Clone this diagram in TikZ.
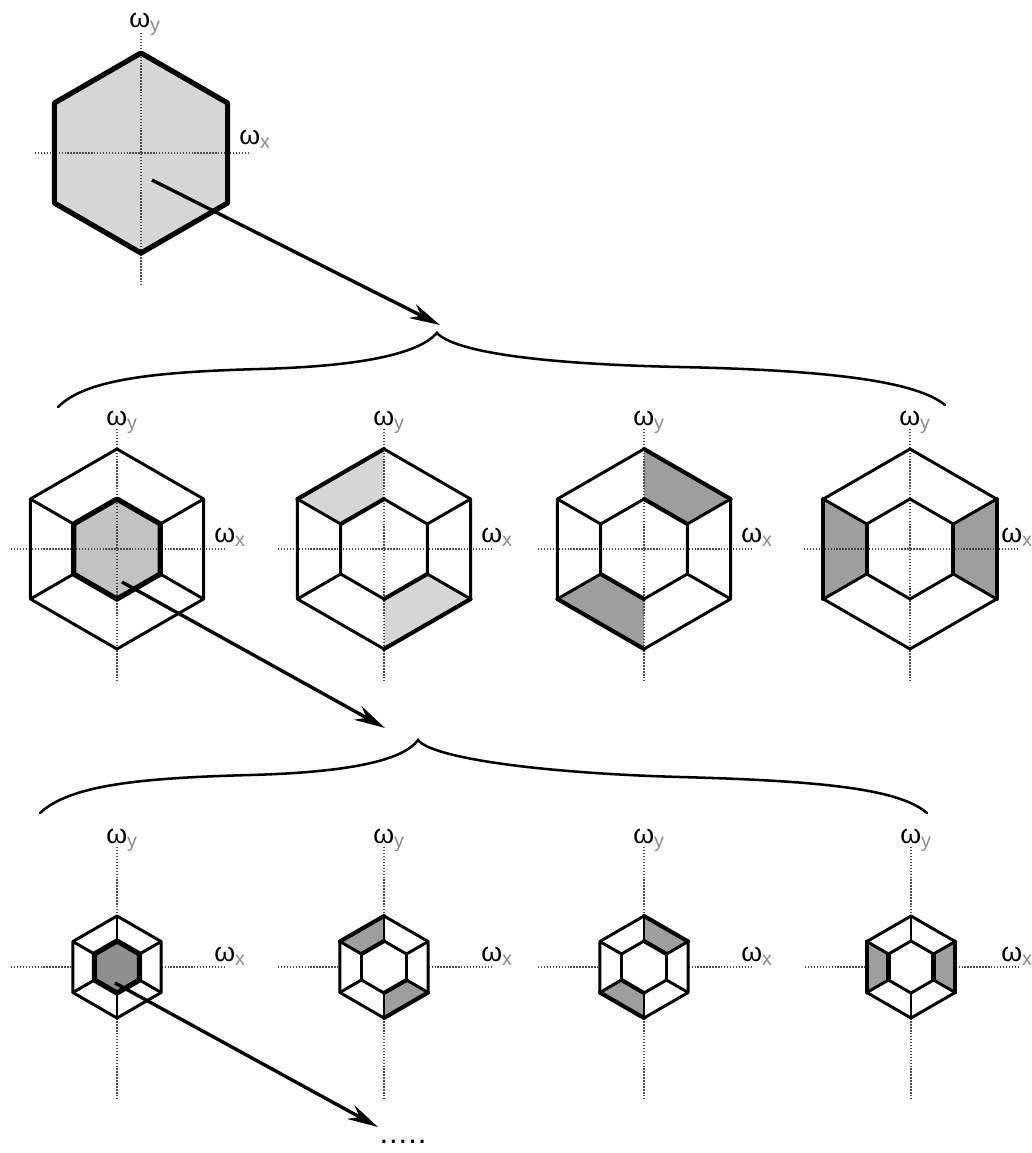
\documentclass[tikz,border=0pt]{standalone}
\usepackage{fontspec}
\setmainfont{Liberation Sans}
\usetikzlibrary{arrows.meta}
\definecolor{shadelight}{gray}{0.84}
\definecolor{shademid}{gray}{0.76}
\definecolor{shadedark}{gray}{0.62}
\definecolor{shadedeep}{gray}{0.56}
\definecolor{subgray}{gray}{0.55}
\definecolor{dotgray}{gray}{0.3}
\newcommand{\omfont}{\fontsize{19pt}{22pt}\selectfont}
\newcommand{\wsub}[1]{\raisebox{-3pt}{\fontsize{14pt}{14pt}\selectfont\color{subgray}#1}}

\begin{document}
\begin{tikzpicture}[x=0.025cm, y=0.025cm, >=Stealth,
  axisline/.style={dotgray, line width=1.3pt, dash pattern=on 1pt off 1.1pt},
  hexedge/.style={line width=2.1pt, line join=round},
  boldedge/.style={line width=3.7pt, line join=round},
  shadeedge/.style={line width=2.9pt, line cap=round},
  omlabel/.style={font=\omfont, inner sep=0pt, anchor=base west},
  bigarrow/.style={line width=2.4pt, -{Stealth[length=22pt, width=11pt]}},
  bracecurve/.style={line width=1.8pt, line cap=round}]

  \useasboundingbox (0,0) rectangle (1032,-1153);

  % --- Top hexagon ---
  \coordinate (top-c) at (141,-153);
  \begin{scope}[shift={(top-c)}]
    \fill[shadelight] (90:100) \foreach \t in {150,210,270,330,30} {-- (\t:100)} -- cycle;
    \draw[axisline] (0,120) -- (0,-132);
    \draw[axisline] (-106,0) -- (107,0);
    \draw[boldedge] (90:100) \foreach \t in {150,210,270,330,30} {-- (\t:100)} -- cycle;
    \node[omlabel] (top-ly) at (-12,126) {ω\wsub{y}};
    \node[omlabel] (top-lx) at (98,9) {ω\wsub{x}};
  \end{scope}

  % --- Middle row: fills ---
  \begin{scope}[shift={(117,-549)}]
    \fill[shademid] (90:50) \foreach \t in {150,210,270,330,30} {-- (\t:50)} -- cycle;
  \end{scope}
  \foreach \cx/\a/\shd in {384/90/shadelight, 644/30/shadedark, 910/-30/shadedark} {
    \begin{scope}[shift={(\cx,-549)}]
      \foreach \b in {\a, \a+180} {
        \fill[\shd] ({\b}:100) -- ({\b+60}:100) -- ({\b+60}:50) -- ({\b}:50) -- cycle;
      }
    \end{scope}
  }

  % --- Middle row: axes, hexagons, labels ---
  \foreach \cx/\lx [count=\i] in {117/97,384/97,644/97,910/91} {
    \begin{scope}[shift={(\cx,-549)}]
      \draw[axisline] (0,120) -- (0,-132);
      \draw[axisline] (-106,0) -- (107,0);
      \draw[hexedge] (90:100) \foreach \t in {150,210,270,330,30} {-- (\t:100)} -- cycle;
      \draw[hexedge] (90:50) \foreach \t in {150,210,270,330,30} {-- (\t:50)} -- cycle;
      \foreach \t in {30,150,210,330} \draw[hexedge] (\t:50) -- (\t:100);
      \node[omlabel] (mid-ly\i) at (-11,124) {ω\wsub{y}};
      \node[omlabel] (mid-lx\i) at (\lx,7) {ω\wsub{x}};
    \end{scope}
  }

  % bold outlines of the shaded parts
  \begin{scope}[shift={(117,-549)}]
    \draw[boldedge] (90:50) \foreach \t in {150,210,270,330,30} {-- (\t:50)} -- cycle;
  \end{scope}
  \foreach \cx/\a in {384/90, 644/30, 910/-30} {
    \begin{scope}[shift={(\cx,-549)}]
      \foreach \b in {\a, \a+180} {
        \draw[shadeedge] ({\b}:100) -- ({\b+60}:100);
        \draw[shadeedge] ({\b}:50) -- ({\b+60}:50);
      }
    \end{scope}
  }

  % --- Bottom row: axes, white hexagons, labels ---
  \foreach \cx/\lx [count=\i] in {117/97,384/97,644/97,911/90} {
    \begin{scope}[shift={(\cx,-967)}]
      \draw[axisline] (0,120) -- (0,-132);
      \draw[axisline] (-106,0) -- (107,0);
      \fill[white] (90:51) \foreach \t in {150,210,270,330,30} {-- (\t:51)} -- cycle;
      \node[omlabel] (bot-ly\i) at (-11,124) {ω\wsub{y}};
      \node[omlabel] (bot-lx\i) at (\lx,6) {ω\wsub{x}};
    \end{scope}
  }

  % --- Bottom row: fills ---
  \begin{scope}[shift={(117,-967)}]
    \fill[shadedeep] (90:26) \foreach \t in {150,210,270,330,30} {-- (\t:26)} -- cycle;
  \end{scope}
  \foreach \cx/\a in {384/90, 644/30, 911/-30} {
    \begin{scope}[shift={(\cx,-967)}]
      \foreach \b in {\a, \a+180} {
        \fill[shadedark] ({\b}:51) -- ({\b+60}:51) -- ({\b+60}:26) -- ({\b}:26) -- cycle;
      }
    \end{scope}
  }

  % --- Bottom row: outlines ---
  \foreach \cx in {117,384,644,911} {
    \begin{scope}[shift={(\cx,-967)}]
      \draw[hexedge] (90:51) \foreach \t in {150,210,270,330,30} {-- (\t:51)} -- cycle;
      \draw[hexedge] (90:26) \foreach \t in {150,210,270,330,30} {-- (\t:26)} -- cycle;
      \foreach \t in {30,90,...,330} \draw[hexedge] (\t:26) -- (\t:51);
    \end{scope}
  }
  \begin{scope}[shift={(117,-967)}]
    \draw[boldedge] (90:26) \foreach \t in {150,210,270,330,30} {-- (\t:26)} -- cycle;
  \end{scope}
  \foreach \cx/\a in {384/90, 644/30, 911/-30} {
    \begin{scope}[shift={(\cx,-967)}]
      \foreach \b in {\a, \a+180} {
        \draw[shadeedge] ({\b}:51) -- ({\b+60}:51);
        \draw[shadeedge] ({\b}:26) -- ({\b+60}:26);
      }
    \end{scope}
  }

  % --- Braces ---
  \draw[bracecurve] (58,-407) .. controls (85,-380) and (150,-372) .. (260,-369)
    .. controls (370,-366) and (420,-352) .. (437,-333) coordinate (brace1-tip)
    .. controls (455,-352) and (540,-364) .. (680,-367)
    .. controls (820,-370) and (915,-380) .. (945,-405);
  \draw[bracecurve] (40,-813) .. controls (70,-785) and (140,-778) .. (250,-775)
    .. controls (360,-772) and (405,-758) .. (418,-740) coordinate (brace2-tip)
    .. controls (432,-758) and (540,-773) .. (680,-777)
    .. controls (830,-781) and (900,-790) .. (927,-813);

  % --- Zoom arrows ---
  \coordinate (arr1-from) at (152,-180);
  \coordinate (arr1-to) at (440,-325);
  \coordinate (arr2-from) at (122,-582);
  \coordinate (arr2-to) at (385,-728);
  \coordinate (arr3-from) at (115,-983);
  \coordinate (arr3-to) at (378,-1127);
  \draw[bigarrow] (arr1-from) -- (arr1-to);
  \draw[bigarrow] (arr2-from) -- (arr2-to);
  \draw[bigarrow] (arr3-from) -- (arr3-to);

  \node[font=\fontsize{22pt}{24pt}\selectfont, inner sep=0pt, anchor=base] (more) at (403,-1143) {.\kern0.7pt.\kern0.7pt.\kern0.7pt.\kern0.7pt.};

\end{tikzpicture}
\end{document}
